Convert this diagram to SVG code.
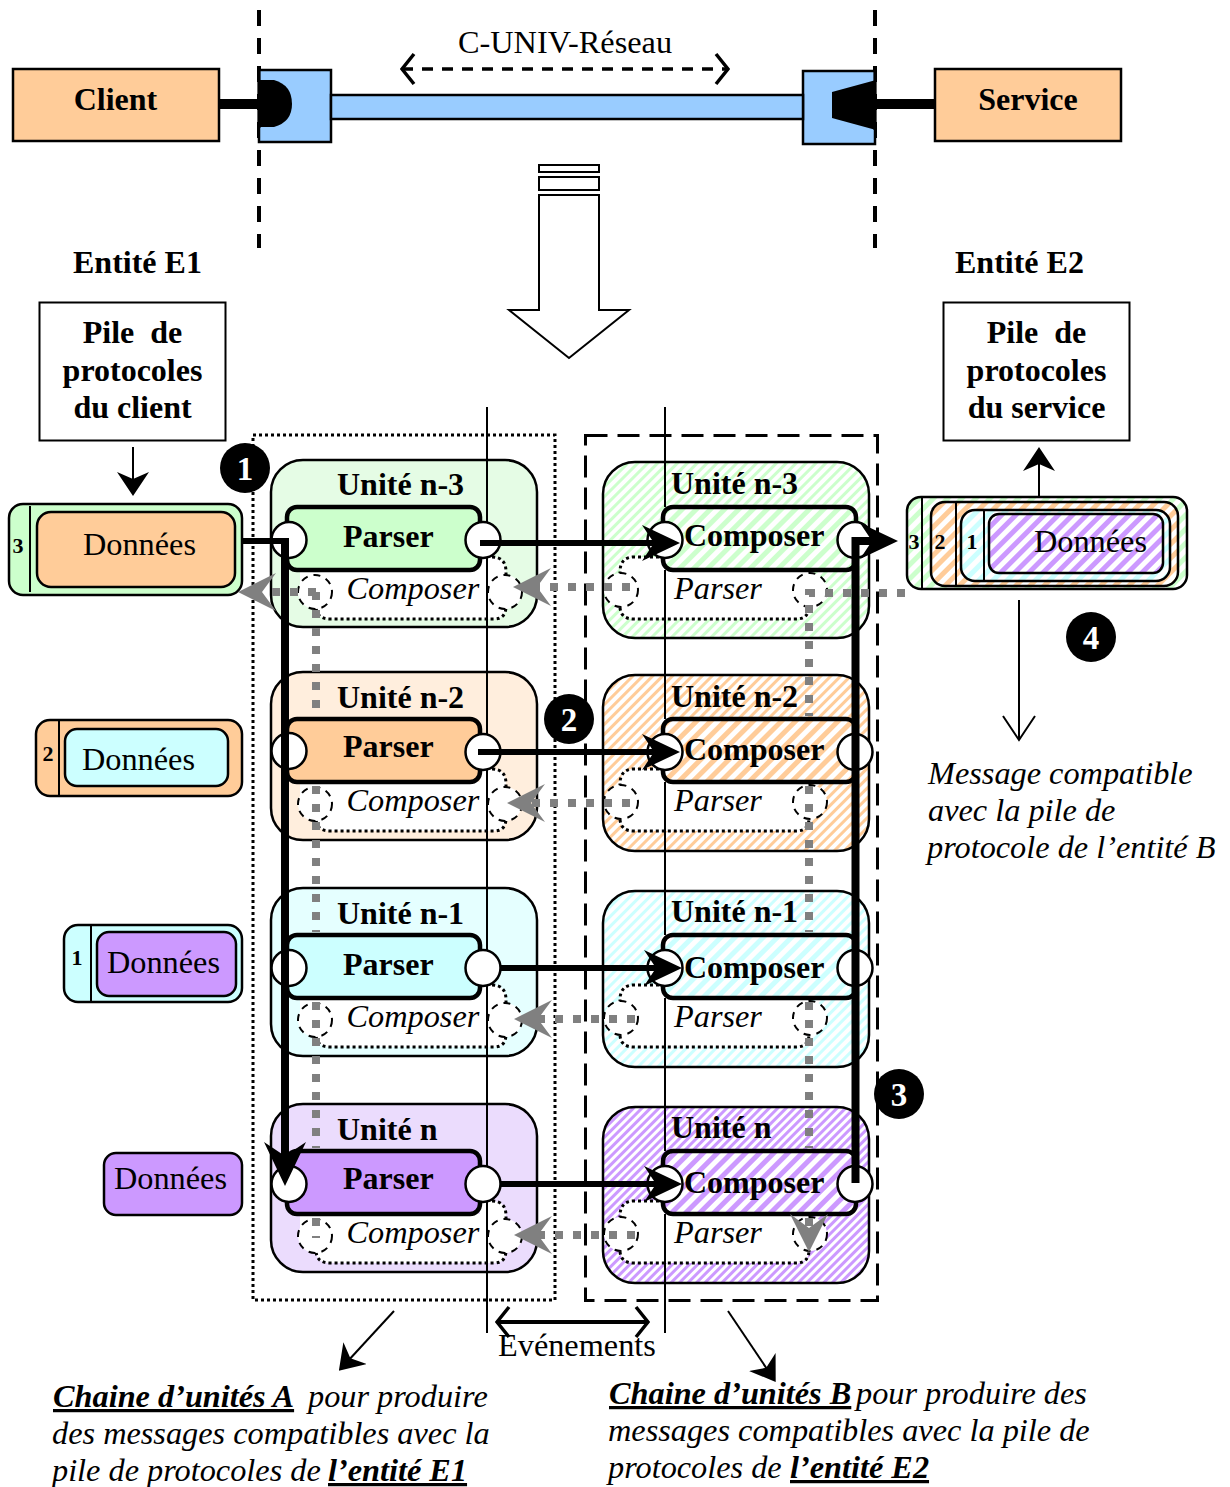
<svg xmlns="http://www.w3.org/2000/svg" width="1230" height="1487" viewBox="0 0 1230 1487">
<style>
text{font-family:"Liberation Serif","Times New Roman",serif;fill:#000}
.b{font-weight:bold;font-size:32px}
.r{font-size:32.3px}
.i{font-style:italic;font-size:32.3px}
.bi{font-style:italic;font-weight:bold;font-size:32.3px;text-decoration:underline}
.c{text-anchor:middle}
.n{font-weight:bold;font-size:22px;text-anchor:middle}
.k{font-weight:bold;font-size:33px;text-anchor:middle;fill:#fff}
.u{stroke:#000;stroke-width:2.5}
.box{stroke:#000;stroke-width:2.5}
.in{stroke:#000;stroke-width:4.5}
.port{fill:#fff;stroke:#000;stroke-width:2.5}
.ds{fill:#fff;stroke:#000;stroke-width:2;stroke-dasharray:7 6}
.dot{fill:none;stroke:#000;stroke-width:3;stroke-dasharray:3 3}
.thin{fill:none;stroke:#000;stroke-width:2}
.heavy{fill:none;stroke:#000;stroke-width:6}
.thick{fill:none;stroke:#000;stroke-width:8}
.grey{fill:none;stroke:#808080;stroke-width:8;stroke-dasharray:8 10}
.dv{stroke:#000;stroke-width:4;stroke-dasharray:16 12}
.key{fill:#000}
</style>
<defs>
<marker id="st" markerUnits="userSpaceOnUse" viewBox="0 0 38 36" refX="18" refY="18" markerWidth="38" markerHeight="36" orient="auto"><path d="M38 18L0 0L12 18L0 36Z" fill="#000"/></marker>
<marker id="stv" markerUnits="userSpaceOnUse" viewBox="0 0 44 42" refX="20" refY="21" markerWidth="44" markerHeight="42" orient="auto"><path d="M44 21L0 0L14 21L0 42Z" fill="#000"/></marker>
<marker id="gs" markerUnits="userSpaceOnUse" viewBox="0 0 38 38" refX="18" refY="19" markerWidth="38" markerHeight="38" orient="auto"><path d="M38 19L0 0L14 19L0 38Z" fill="#808080"/></marker>
<marker id="sm" markerUnits="userSpaceOnUse" viewBox="0 0 24 32" refX="12" refY="16" markerWidth="24" markerHeight="32" orient="auto"><path d="M24 16L0 0L7 16L0 32Z" fill="#000"/></marker>
<marker id="op" markerUnits="userSpaceOnUse" viewBox="0 0 28 36" refX="26" refY="18" markerWidth="28" markerHeight="36" orient="auto"><path d="M2 2L26 18L2 34" fill="none" stroke="#000" stroke-width="2"/></marker>
<marker id="ch2" markerUnits="userSpaceOnUse" viewBox="0 0 16 34" refX="14" refY="17" markerWidth="16" markerHeight="34" orient="auto-start-reverse"><path d="M2 2L14 17L2 32" fill="none" stroke="#000" stroke-width="3.500"/></marker>
<pattern id="hg" width="7" height="7" patternUnits="userSpaceOnUse" patternTransform="rotate(45)"><rect width="7" height="7" fill="#fff"/><rect width="3" height="7" fill="#ccffcc"/></pattern>
<pattern id="ho" width="7" height="7" patternUnits="userSpaceOnUse" patternTransform="rotate(45)"><rect width="7" height="7" fill="#fff"/><rect width="3" height="7" fill="#ffcc99"/></pattern>
<pattern id="hc" width="7" height="7" patternUnits="userSpaceOnUse" patternTransform="rotate(45)"><rect width="7" height="7" fill="#fff"/><rect width="3" height="7" fill="#ccffff"/></pattern>
<pattern id="hp" width="6" height="6" patternUnits="userSpaceOnUse" patternTransform="rotate(45)"><rect width="6" height="6" fill="#fff"/><rect width="3" height="6" fill="#cc99ff"/></pattern>
<pattern id="wg" width="10" height="10" patternUnits="userSpaceOnUse" patternTransform="rotate(45)"><rect width="10" height="10" fill="#fff"/><rect width="5" height="10" fill="#ccffcc"/></pattern>
<pattern id="wo" width="10" height="10" patternUnits="userSpaceOnUse" patternTransform="rotate(45)"><rect width="10" height="10" fill="#fff"/><rect width="5" height="10" fill="#ffcc99"/></pattern>
<pattern id="wc" width="10" height="10" patternUnits="userSpaceOnUse" patternTransform="rotate(45)"><rect width="10" height="10" fill="#fff"/><rect width="5" height="10" fill="#ccffff"/></pattern>
<pattern id="wp" width="10" height="10" patternUnits="userSpaceOnUse" patternTransform="rotate(45)"><rect width="10" height="10" fill="#fff"/><rect width="5" height="10" fill="#cc99ff"/></pattern>
<g id="lreg"><path d="M480 557H492Q506 557 506 572V606Q506 619 494 619H330Q316 619 316 606V592H300V570H480Z" fill="#fff"/><path class="dot" d="M492 557Q506 557 506 572V606Q506 619 494 619H330Q316 619 316 606"/></g>
<g id="rreg"><path d="M665 557H634Q620 557 620 572V606Q620 619 634 619H796Q809 619 809 606V570H665Z" fill="#fff"/><path class="dot" d="M665 557H634Q620 557 620 572V606Q620 619 634 619H796Q809 619 809 606"/></g>
</defs>

<g id="network">
<path class="dv" d="M259 10V248M875 10V248" fill="none"/>
<rect x="259" y="70" width="72" height="72" fill="#99ccff" stroke="#000" stroke-width="2.5"/>
<rect x="803" y="71" width="72" height="73" fill="#99ccff" stroke="#000" stroke-width="2.5"/>
<rect x="331" y="95" width="472" height="24" fill="#99ccff" stroke="#000" stroke-width="2.5"/>
<path class="key" d="M259 80H274Q292 85 292 104Q292 122 274 127H259Z"/>
<path class="key" d="M876 80L832 92V118L876 130Z"/>
<path d="M259 70V128M875 70V130" stroke="#000" stroke-width="3"/>
<path d="M219 104H259M876 104H936" stroke="#000" stroke-width="10"/>
<text class="r" x="458" y="53">C-UNIV-Réseau</text>
</g>
<g id="client"><rect class="box" x="13" y="69" width="206" height="72" fill="#ffcc99"/><text class="b c" x="115.500" y="110">Client</text></g>
<g id="service"><rect class="box" x="935" y="69" width="186" height="72" fill="#ffcc99"/><text class="b c" x="1028" y="110">Service</text></g>
<g id="transform-arrow" fill="#fff" stroke="#000" stroke-width="2">
<rect x="539" y="165" width="60" height="7"/><rect x="539" y="177" width="60" height="13"/>
<path d="M539 195H599V310H629L569 358L509 310H539Z"/>
</g>
<text class="b" x="73" y="273">Entité E1</text>
<text class="b" x="955" y="273">Entité E2</text>
<g id="pile-client"><rect x="39.500" y="302.500" width="186" height="138" fill="#fff" stroke="#000" stroke-width="2"/><text class="b c" x="132.500" y="343" xml:space="preserve">Pile  de</text><text class="b c" x="132.500" y="381">protocoles</text><text class="b c" x="132.500" y="418">du client</text></g>
<g id="pile-service"><rect x="943.500" y="302.500" width="186" height="138" fill="#fff" stroke="#000" stroke-width="2"/><text class="b c" x="1036.500" y="343" xml:space="preserve">Pile  de</text><text class="b c" x="1036.500" y="381">protocoles</text><text class="b c" x="1036.500" y="418">du service</text></g>

<g id="frames" fill="none" stroke="#000">
<rect x="253" y="435" width="302" height="865" stroke-width="3" stroke-dasharray="3 3"/>
<rect x="585.500" y="435.500" width="292" height="865" stroke-width="3" stroke-dasharray="22 10"/>
</g>

<g id="unit-a3">
<rect class="u" x="271" y="460" width="266" height="167" rx="32" fill="#e5fce5"/>
<use href="#lreg"/>
<rect class="in" x="287" y="507" width="193" height="63" rx="10" fill="#ccffcc"/>
<ellipse class="port" cx="289" cy="540" rx="17.500" ry="18"/><ellipse class="port" cx="483" cy="540" rx="17.500" ry="18"/>
<circle class="ds" cx="315" cy="592" r="17"/><circle class="ds" cx="505" cy="592" r="17"/>
<text class="b" x="337" y="495">Unité n-3</text><text class="b" x="343" y="547">Parser</text><text class="i" x="346.500" y="599">Composer</text>
</g>
<g id="unit-a2">
<rect class="u" x="271" y="672" width="266" height="168" rx="32" fill="#ffeedd"/>
<use href="#lreg" y="212"/>
<rect class="in" x="287" y="719" width="193" height="63" rx="10" fill="#ffcc99"/>
<ellipse class="port" cx="289" cy="751" rx="17.500" ry="18"/><ellipse class="port" cx="483" cy="752" rx="17.500" ry="18"/>
<circle class="ds" cx="315" cy="804" r="17"/><circle class="ds" cx="505" cy="804" r="17"/>
<text class="b" x="337" y="708">Unité n-2</text><text class="b" x="343" y="757">Parser</text><text class="i" x="346.500" y="811">Composer</text>
</g>
<g id="unit-a1">
<rect class="u" x="271" y="888" width="266" height="168" rx="32" fill="#e5ffff"/>
<use href="#lreg" y="428"/>
<rect class="in" x="287" y="935" width="193" height="63" rx="10" fill="#ccffff"/>
<ellipse class="port" cx="289" cy="968" rx="17.500" ry="18"/><ellipse class="port" cx="483" cy="968" rx="17.500" ry="18"/>
<circle class="ds" cx="315" cy="1020" r="17"/><circle class="ds" cx="505" cy="1020" r="17"/>
<text class="b" x="337" y="924">Unité n-1</text><text class="b" x="343" y="975">Parser</text><text class="i" x="346.500" y="1027">Composer</text>
</g>
<g id="unit-a0">
<rect class="u" x="271" y="1104" width="266" height="168" rx="32" fill="#ebdcfd"/>
<use href="#lreg" y="644"/>
<rect class="in" x="287" y="1151" width="193" height="63" rx="10" fill="#cc99ff"/>
<ellipse class="port" cx="289" cy="1184" rx="17.500" ry="18"/><ellipse class="port" cx="483" cy="1184" rx="17.500" ry="18"/>
<circle class="ds" cx="315" cy="1236" r="17"/><circle class="ds" cx="505" cy="1236" r="17"/>
<text class="b" x="337" y="1140">Unité n</text><text class="b" x="343" y="1189">Parser</text><text class="i" x="346.500" y="1243">Composer</text>
</g>

<g id="unit-b3">
<rect class="u" x="603" y="462" width="266" height="176" rx="32" fill="url(#hg)"/>
<use href="#rreg"/>
<rect class="in" x="663" y="507" width="193" height="63" rx="10" fill="url(#wg)"/>
<ellipse class="port" cx="665" cy="540" rx="17.500" ry="18"/><ellipse class="port" cx="855" cy="540" rx="17.500" ry="18"/>
<circle class="ds" cx="621" cy="590" r="17"/><circle class="ds" cx="810" cy="590" r="17"/>
<text class="b" x="671" y="494">Unité n-3</text><text class="b" x="684" y="546">Composer</text><text class="i" x="674" y="599">Parser</text>
</g>
<g id="unit-b2">
<rect class="u" x="603" y="675" width="266" height="176" rx="32" fill="url(#ho)"/>
<use href="#rreg" y="212"/>
<rect class="in" x="663" y="719" width="193" height="63" rx="10" fill="url(#wo)"/>
<ellipse class="port" cx="665" cy="752" rx="17.500" ry="18"/><ellipse class="port" cx="855" cy="752" rx="17.500" ry="18"/>
<circle class="ds" cx="621" cy="802" r="17"/><circle class="ds" cx="810" cy="802" r="17"/>
<text class="b" x="671" y="707">Unité n-2</text><text class="b" x="684" y="760">Composer</text><text class="i" x="674" y="811">Parser</text>
</g>
<g id="unit-b1">
<rect class="u" x="603" y="891" width="266" height="176" rx="32" fill="url(#hc)"/>
<use href="#rreg" y="428"/>
<rect class="in" x="663" y="935" width="193" height="63" rx="10" fill="url(#wc)"/>
<ellipse class="port" cx="665" cy="968" rx="17.500" ry="18"/><ellipse class="port" cx="855" cy="968" rx="17.500" ry="18"/>
<circle class="ds" cx="621" cy="1018" r="17"/><circle class="ds" cx="810" cy="1018" r="17"/>
<text class="b" x="671" y="922">Unité n-1</text><text class="b" x="684" y="978">Composer</text><text class="i" x="674" y="1027">Parser</text>
</g>
<g id="unit-b0">
<rect class="u" x="603" y="1107" width="266" height="176" rx="32" fill="url(#hp)"/>
<use href="#rreg" y="644"/>
<rect class="in" x="663" y="1151" width="193" height="63" rx="10" fill="url(#wp)"/>
<ellipse class="port" cx="665" cy="1184" rx="17.500" ry="18"/><ellipse class="port" cx="855" cy="1184" rx="17.500" ry="18"/>
<circle class="ds" cx="621" cy="1234" r="17"/><circle class="ds" cx="810" cy="1234" r="17"/>
<text class="b" x="671" y="1138">Unité n</text><text class="b" x="684" y="1193">Composer</text><text class="i" x="674" y="1243">Parser</text>
</g>

<g id="data-3"><rect class="box" x="9" y="504" width="233" height="91" rx="14" fill="#ccffcc"/><path class="thin" d="M30 506V592"/><rect class="box" x="37" y="512" width="198" height="75" rx="14" fill="#ffcc99"/><text class="n" x="18" y="553">3</text><text class="r" x="83" y="555">Données</text></g>
<g id="data-2"><rect class="box" x="36" y="720" width="206" height="76" rx="14" fill="#ffcc99"/><path class="thin" d="M59 720V797"/><rect class="box" x="65" y="729" width="163" height="57" rx="12" fill="#ccffff"/><text class="n" x="48" y="761">2</text><text class="r" x="82" y="770">Données</text></g>
<g id="data-1"><rect class="box" x="64" y="925" width="178" height="77" rx="14" fill="#ccffff"/><path class="thin" d="M91 925V1003"/><rect class="box" x="97" y="932" width="139" height="64" rx="12" fill="#cc99ff"/><text class="n" x="77" y="965">1</text><text class="r" x="107" y="973">Données</text></g>
<g id="data-0"><rect class="box" x="104" y="1153" width="138" height="62" rx="12" fill="#cc99ff"/><text class="r" x="114" y="1189">Données</text></g>

<g id="data-stack">
<rect class="box" x="907" y="497" width="280" height="92" rx="14" fill="url(#wg)"/><path class="thin" d="M922 497V589"/>
<rect class="box" x="931" y="502" width="247" height="84" rx="14" fill="url(#wo)"/><path class="thin" d="M956 503V585"/>
<rect class="box" x="961" y="510" width="209" height="71" rx="14" fill="url(#wc)"/><path class="thin" d="M984 511V581"/>
<rect class="box" x="989" y="514" width="174" height="59" rx="10" fill="url(#wp)"/>
<text class="n" x="914" y="549">3</text><text class="n" x="940" y="549">2</text><text class="n" x="972" y="549">1</text><text class="r" x="1034" y="552">Données</text>
</g>

<g id="connectors">
<path class="thin" d="M487 407V522M487 558V734M487 770V950M487 986V1166M487 1202V1333"/>
<path class="thin" d="M665 407V507M665 570V719M665 782V935M665 998V1151M665 1214V1333"/>
<path class="grey" d="M316 592V716M316 786V932M316 1002V1148M316 1218V1238"/>
<path class="grey" d="M905 593H809V716M809 786V932M809 1002V1148"/>
<path class="grey" d="M809 1218V1232" marker-end="url(#gs)"/>
<path class="grey" d="M316 592H258" marker-end="url(#gs)"/>
<path class="grey" d="M630 587H533" marker-end="url(#gs)"/>
<path class="grey" d="M630 803H527" marker-end="url(#gs)"/>
<path class="grey" d="M635 1019H534" marker-end="url(#gs)"/>
<path class="grey" d="M635 1235H534" marker-end="url(#gs)"/>
<path class="heavy" d="M242 541H289"/>
<path class="thick" d="M285 538V1162" marker-end="url(#stv)"/>
<path class="heavy" d="M480 543H660" marker-end="url(#st)"/>
<path class="heavy" d="M478 752H660" marker-end="url(#st)"/>
<path class="heavy" d="M500 968H662" marker-end="url(#st)"/>
<path class="heavy" d="M500 1184H662" marker-end="url(#st)"/>
<path class="thick" d="M855.500 1183V541H878" marker-end="url(#st)"/>
<path class="thin" d="M133 447V484" marker-end="url(#sm)"/>
<path class="thin" d="M1039 496V459" marker-end="url(#sm)"/>
<path class="thin" d="M1019 600V740" marker-end="url(#op)"/>
<path class="thin" d="M394 1311L347 1362" marker-end="url(#sm)"/>
<path class="thin" d="M728 1311L769 1372" marker-end="url(#sm)"/>
<path fill="none" stroke="#000" stroke-width="4" d="M497 1322H648" marker-start="url(#ch2)" marker-end="url(#ch2)"/>
<path fill="none" stroke="#000" stroke-width="3.500" stroke-dasharray="11 9" d="M402 69H728" marker-start="url(#ch2)" marker-end="url(#ch2)"/>
</g>

<g id="step-1"><circle cx="245" cy="468" r="25"/><text class="k" x="245" y="480">1</text></g>
<g id="step-2"><circle cx="569" cy="719" r="25"/><text class="k" x="569" y="731">2</text></g>
<g id="step-3"><circle cx="899" cy="1094" r="25"/><text class="k" x="899" y="1106">3</text></g>
<g id="step-4"><circle cx="1091" cy="637" r="25"/><text class="k" x="1091" y="649">4</text></g>

<g id="labels">
<text class="r" x="498" y="1356">Evénements</text>
<text class="i" x="928" y="784">Message compatible</text>
<text class="i" x="928" y="821">avec la pile de</text>
<text class="i" x="927" y="858">protocole de l’entité B</text>
<text class="bi" x="53" y="1407">Chaine d’unités A</text><text class="i" x="308" y="1407">pour produire</text>
<text class="i" x="52" y="1444">des messages compatibles avec la</text>
<text class="i" x="52" y="1481">pile de protocoles de </text><text class="bi" x="328" y="1481">l’entité E1</text>
<text class="bi" x="609" y="1404">Chaine d’unités B</text><text class="i" x="856" y="1404">pour produire des</text>
<text class="i" x="608" y="1441">messages compatibles avec la pile de</text>
<text class="i" x="608" y="1478">protocoles de </text><text class="bi" x="790" y="1478">l’entité E2</text>
</g>
</svg>
